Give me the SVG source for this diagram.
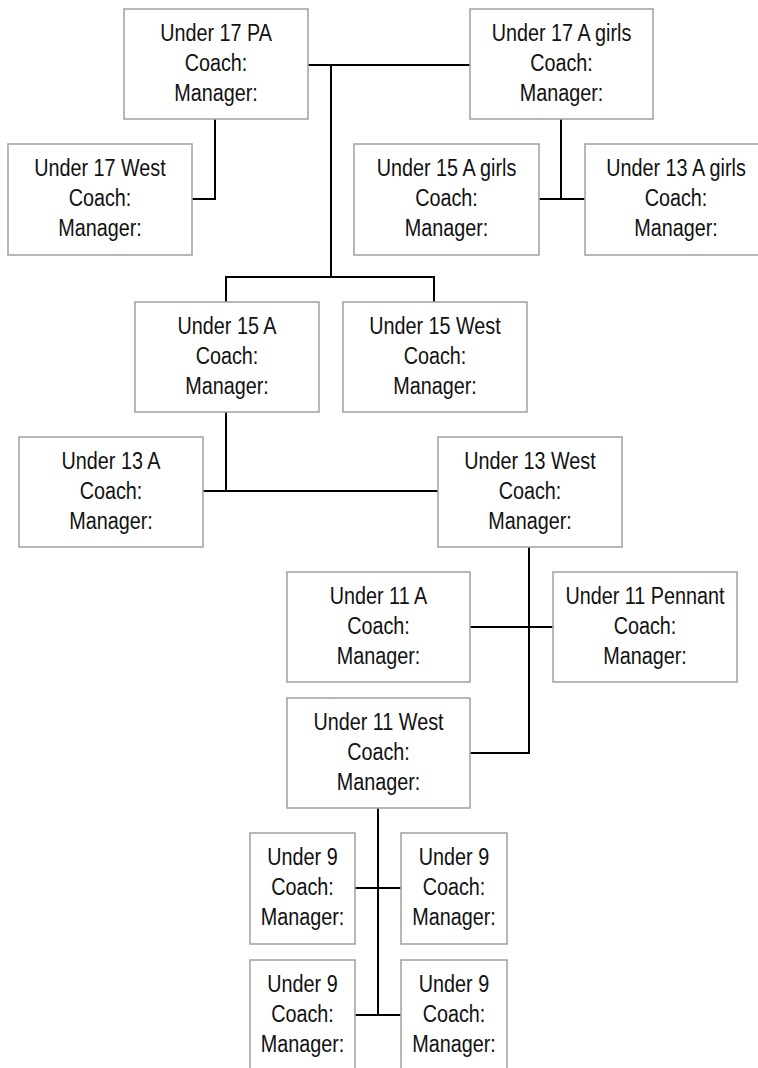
<svg xmlns="http://www.w3.org/2000/svg" width="758" height="1068" viewBox="0 0 758 1068">
<style>
.box{fill:#ffffff;stroke:#a6a6a6;stroke-width:1.6}
.lbl{font-family:"Liberation Sans",Arial,sans-serif;font-size:23px;fill:#111111;text-anchor:middle}
.conn{fill:none;stroke:#000000;stroke-width:2}
</style>
<rect width="758" height="1068" fill="#ffffff"/>
<g id="connectors">
<path class="conn" d="M215,119 V199 H192"/>
<path class="conn" d="M307,65 H470"/>
<path class="conn" d="M331,65 V277"/>
<path class="conn" d="M226,302 V277 H434 V302"/>
<path class="conn" d="M561,119 V199"/>
<path class="conn" d="M539,199 H585"/>
<path class="conn" d="M226,412 V491"/>
<path class="conn" d="M203,491 H438"/>
<path class="conn" d="M529,547 V753 H470"/>
<path class="conn" d="M470,627 H553"/>
<path class="conn" d="M378,808 V1015"/>
<path class="conn" d="M355,888 H401"/>
<path class="conn" d="M355,1015 H401"/>
</g>
<g id="u17pa"><rect class="box" x="124" y="9" width="184" height="110"/>
<text class="lbl" transform="translate(216,0) scale(0.86,1)"><tspan x="0" y="41.3">Under 17 PA</tspan><tspan x="0" y="71.3">Coach:</tspan><tspan x="0" y="101.3">Manager:</tspan></text></g>
<g id="u17west"><rect class="box" x="8" y="144" width="184" height="111"/>
<text class="lbl" transform="translate(100,0) scale(0.86,1)"><tspan x="0" y="176.3">Under 17 West</tspan><tspan x="0" y="206.3">Coach:</tspan><tspan x="0" y="236.3">Manager:</tspan></text></g>
<g id="u17agirls"><rect class="box" x="470" y="9" width="183" height="110"/>
<text class="lbl" transform="translate(561.5,0) scale(0.86,1)"><tspan x="0" y="41.3">Under 17 A girls</tspan><tspan x="0" y="71.3">Coach:</tspan><tspan x="0" y="101.3">Manager:</tspan></text></g>
<g id="u15agirls"><rect class="box" x="354" y="144" width="185" height="111"/>
<text class="lbl" transform="translate(446.5,0) scale(0.86,1)"><tspan x="0" y="176.3">Under 15 A girls</tspan><tspan x="0" y="206.3">Coach:</tspan><tspan x="0" y="236.3">Manager:</tspan></text></g>
<g id="u13agirls"><rect class="box" x="585" y="144" width="184" height="111"/>
<text class="lbl" transform="translate(676,0) scale(0.86,1)"><tspan x="0" y="176.3">Under 13 A girls</tspan><tspan x="0" y="206.3">Coach:</tspan><tspan x="0" y="236.3">Manager:</tspan></text></g>
<g id="u15a"><rect class="box" x="135" y="302" width="184" height="110"/>
<text class="lbl" transform="translate(227,0) scale(0.86,1)"><tspan x="0" y="334.3">Under 15 A</tspan><tspan x="0" y="364.3">Coach:</tspan><tspan x="0" y="394.3">Manager:</tspan></text></g>
<g id="u15west"><rect class="box" x="343" y="302" width="184" height="110"/>
<text class="lbl" transform="translate(435,0) scale(0.86,1)"><tspan x="0" y="334.3">Under 15 West</tspan><tspan x="0" y="364.3">Coach:</tspan><tspan x="0" y="394.3">Manager:</tspan></text></g>
<g id="u13a"><rect class="box" x="19" y="437" width="184" height="110"/>
<text class="lbl" transform="translate(111,0) scale(0.86,1)"><tspan x="0" y="469.3">Under 13 A</tspan><tspan x="0" y="499.3">Coach:</tspan><tspan x="0" y="529.3">Manager:</tspan></text></g>
<g id="u13west"><rect class="box" x="438" y="437" width="184" height="110"/>
<text class="lbl" transform="translate(530,0) scale(0.86,1)"><tspan x="0" y="469.3">Under 13 West</tspan><tspan x="0" y="499.3">Coach:</tspan><tspan x="0" y="529.3">Manager:</tspan></text></g>
<g id="u11a"><rect class="box" x="287" y="572" width="183" height="110"/>
<text class="lbl" transform="translate(378.5,0) scale(0.86,1)"><tspan x="0" y="604.3">Under 11 A</tspan><tspan x="0" y="634.3">Coach:</tspan><tspan x="0" y="664.3">Manager:</tspan></text></g>
<g id="u11pennant"><rect class="box" x="553" y="572" width="184" height="110"/>
<text class="lbl" transform="translate(645,0) scale(0.86,1)"><tspan x="0" y="604.3">Under 11 Pennant</tspan><tspan x="0" y="634.3">Coach:</tspan><tspan x="0" y="664.3">Manager:</tspan></text></g>
<g id="u11west"><rect class="box" x="287" y="698" width="183" height="110"/>
<text class="lbl" transform="translate(378.5,0) scale(0.86,1)"><tspan x="0" y="730.3">Under 11 West</tspan><tspan x="0" y="760.3">Coach:</tspan><tspan x="0" y="790.3">Manager:</tspan></text></g>
<g id="u9a"><rect class="box" x="250" y="833" width="105" height="111"/>
<text class="lbl" transform="translate(302.5,0) scale(0.86,1)"><tspan x="0" y="865.3">Under 9</tspan><tspan x="0" y="895.3">Coach:</tspan><tspan x="0" y="925.3">Manager:</tspan></text></g>
<g id="u9b"><rect class="box" x="401" y="833" width="106" height="111"/>
<text class="lbl" transform="translate(454,0) scale(0.86,1)"><tspan x="0" y="865.3">Under 9</tspan><tspan x="0" y="895.3">Coach:</tspan><tspan x="0" y="925.3">Manager:</tspan></text></g>
<g id="u9c"><rect class="box" x="250" y="960" width="105" height="111"/>
<text class="lbl" transform="translate(302.5,0) scale(0.86,1)"><tspan x="0" y="992.3">Under 9</tspan><tspan x="0" y="1022.3">Coach:</tspan><tspan x="0" y="1052.3">Manager:</tspan></text></g>
<g id="u9d"><rect class="box" x="401" y="960" width="106" height="111"/>
<text class="lbl" transform="translate(454,0) scale(0.86,1)"><tspan x="0" y="992.3">Under 9</tspan><tspan x="0" y="1022.3">Coach:</tspan><tspan x="0" y="1052.3">Manager:</tspan></text></g>
</svg>
